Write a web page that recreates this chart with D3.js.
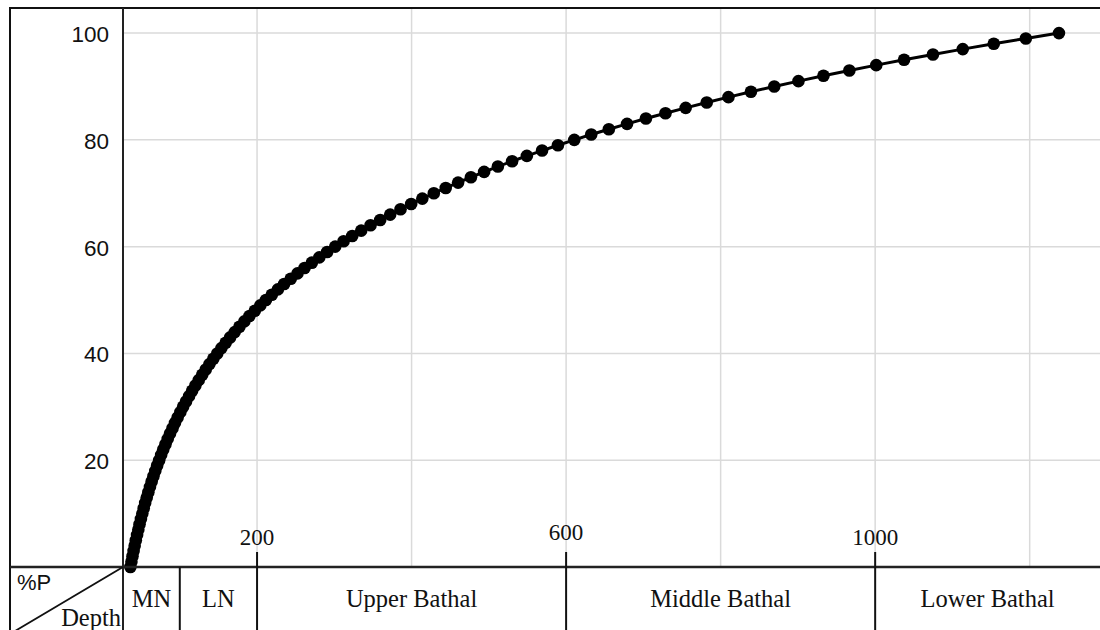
<!DOCTYPE html>
<html lang="en">
<head>
<meta charset="utf-8">
<title>%P vs Depth</title>
<script src="https://cdn.jsdelivr.net/npm/d3@7"></script>
<style>
  html, body { margin: 0; padding: 0; background: #fff; }
  svg { display: block; }
  .ylab { font-family: "Liberation Sans", Arial, sans-serif; font-size: 22.5px; fill: #111; }
  .serif { font-family: "Liberation Serif", "Times New Roman", serif; font-size: 24.5px; fill: #111; }
</style>
</head>
<body>
<script>
// %P values (0..100) and the depth (m) read for each dot
var percentP = d3.range(0, 101);
var depths = [
  36.1, 37.4, 38.8, 40.2, 41.6, 43.1, 44.7, 46.3, 47.9, 49.7,
  51.5, 53.3, 55.2, 57.2, 59.3, 61.4, 63.6, 65.9, 68.3, 70.7,
  73.3, 75.9, 78.6, 81.5, 84.4, 87.4, 90.6, 93.8, 97.2, 100.7,
  104.3, 108.1, 112.0, 116.0, 120.2, 124.5, 129.0, 133.6, 138.4, 143.4,
  148.5, 153.9, 159.4, 165.1, 171.1, 177.2, 183.6, 190.2, 197.1, 204.2,
  211.5, 219.1, 227.0, 235.1, 243.6, 252.4, 261.5, 270.9, 280.6, 290.7,
  301.1, 312.0, 323.2, 334.8, 346.9, 359.4, 372.3, 385.7, 399.5, 413.9,
  428.8, 444.2, 460.2, 476.8, 493.9, 511.7, 530.1, 549.2, 568.9, 589.4,
  610.6, 632.5, 655.3, 678.9, 703.3, 728.6, 754.8, 782.0, 810.1, 839.2,
  869.4, 900.7, 933.1, 966.6, 1001.4, 1037.4, 1074.8, 1113.4, 1153.5, 1195.0,
  1237.9
];
var yTicks = [20, 40, 60, 80, 100];
var xGrid = [200, 400, 600, 800, 1000, 1200];
var depthTicks = [200, 600, 1000];
var zoneBounds = [100, 200, 600, 1000];
var zoneNames = ["MN", "LN", "Upper Bathal", "Middle Bathal", "Lower Bathal"];

var data = percentP.map(function (p, i) { return { p: p, d: depths[i] }; });

var w = 1100, h = 630;
var plotLeft = 123, plotTop = 8, plotBottom = 567, frameX = 10;

var svg = d3.select("body").append("svg")
  .attr("width", w)
  .attr("height", h);

var x = d3.scaleLinear().domain([26.5, 1291]).range([plotLeft, w]);
var y = d3.scaleLinear().domain([0, 104.7]).range([plotBottom, plotTop]);

// grid
svg.append("g").selectAll("line")
  .data(xGrid).enter().append("line")
  .attr("x1", d => x(d)).attr("x2", d => x(d))
  .attr("y1", plotTop).attr("y2", plotBottom)
  .attr("stroke", "#dadada").attr("stroke-width", 1.5);

svg.append("g").selectAll("line")
  .data(yTicks).enter().append("line")
  .attr("x1", plotLeft).attr("x2", w)
  .attr("y1", d => y(d)).attr("y2", d => y(d))
  .attr("stroke", "#dadada").attr("stroke-width", 1.5);

// y labels
svg.append("g").selectAll("text")
  .data(yTicks).enter().append("text")
  .attr("class", "ylab")
  .attr("x", 109)
  .attr("y", d => y(d) + 3)
  .attr("text-anchor", "end")
  .attr("dominant-baseline", "middle")
  .text(d => d);

// curve + dots
var line = d3.line().x(d => x(d.d)).y(d => y(d.p));
svg.append("path")
  .datum(data)
  .attr("d", line)
  .attr("fill", "none")
  .attr("stroke", "#000")
  .attr("stroke-width", 3);

svg.append("g").selectAll("circle")
  .data(data).enter().append("circle")
  .attr("cx", d => x(d.d))
  .attr("cy", d => y(d.p))
  .attr("r", 6.3)
  .attr("fill", "#000");

// frame
svg.append("path")
  .attr("d", "M" + frameX + "," + (h + 5) + "V" + plotTop + "H" + (w + 5))
  .attr("fill", "none").attr("stroke", "#111").attr("stroke-width", 2);

svg.append("line")
  .attr("x1", plotLeft).attr("x2", plotLeft)
  .attr("y1", plotTop).attr("y2", h)
  .attr("stroke", "#222").attr("stroke-width", 2);

svg.append("line")
  .attr("x1", frameX).attr("x2", w)
  .attr("y1", plotBottom).attr("y2", plotBottom)
  .attr("stroke", "#222").attr("stroke-width", 2.5);

// zone table
svg.append("g").selectAll("line")
  .data(zoneBounds).enter().append("line")
  .attr("x1", d => x(d)).attr("x2", d => x(d))
  .attr("y1", d => depthTicks.indexOf(d) >= 0 ? plotBottom - 15 : plotBottom)
  .attr("y2", h)
  .attr("stroke", "#111").attr("stroke-width", 2);

var edges = [x.domain()[0]].concat(zoneBounds, [x.domain()[1]]);
svg.append("g").selectAll("text")
  .data(zoneNames).enter().append("text")
  .attr("class", "serif")
  .attr("x", (d, i) => (x(edges[i]) + x(edges[i + 1])) / 2)
  .attr("y", 607)
  .attr("text-anchor", "middle")
  .text(d => d);

svg.append("g").selectAll("text")
  .data(depthTicks).enter().append("text")
  .attr("class", "serif")
  .attr("x", d => x(d))
  .attr("y", d => d === 600 ? 540 : 545)
  .attr("text-anchor", "middle")
  .style("font-size", "23px")
  .text(d => d);

// corner cell
svg.append("line")
  .attr("x1", frameX).attr("y1", 634)
  .attr("x2", plotLeft).attr("y2", plotBottom)
  .attr("stroke", "#111").attr("stroke-width", 1.8);

svg.append("text")
  .attr("class", "ylab")
  .attr("x", 17).attr("y", 590)
  .style("font-size", "22px")
  .text("%P");

svg.append("text")
  .attr("class", "serif")
  .attr("x", 121).attr("y", 626)
  .attr("text-anchor", "end")
  .text("Depth");
</script>
</body>
</html>
